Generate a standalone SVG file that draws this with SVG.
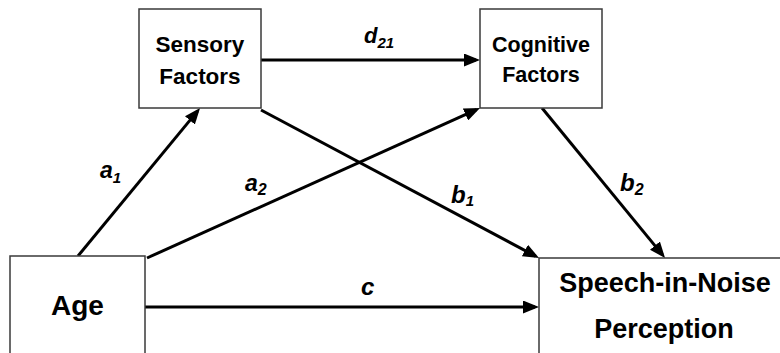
<svg xmlns="http://www.w3.org/2000/svg" width="780" height="353" viewBox="0 0 780 353">
  <style>
    .box { fill: #ffffff; stroke: #3a3a3a; stroke-width: 1.5; }
    .edge { stroke: #000000; stroke-width: 3; fill: none; marker-end: url(#arrow); }
    .name { font-family: "Liberation Sans", Arial, sans-serif; font-weight: bold; fill: #000; text-anchor: middle; }
    .coef { font-family: "Liberation Sans", Arial, sans-serif; font-weight: bold; font-style: italic; fill: #000; }
  </style>
  <defs>
    <marker id="arrow" markerUnits="userSpaceOnUse" markerWidth="16" markerHeight="13" refX="12" refY="6.5" orient="auto">
      <path d="M0,0 L16,6.5 L0,13 Z" fill="#000000"/>
    </marker>
  </defs>
  <rect width="780" height="353" fill="#ffffff"/>

  <!-- connectors -->
  <g id="connectors">
    <line class="edge" x1="261" y1="60" x2="476" y2="60"/>
    <line class="edge" x1="78" y1="256" x2="197.5" y2="111.1"/>
    <line class="edge" x1="147" y1="258" x2="476.4" y2="109.6"/>
    <line class="edge" x1="261" y1="110" x2="535.5" y2="256.1"/>
    <line class="edge" x1="542" y1="108" x2="662.5" y2="254.9"/>
    <line class="edge" x1="145" y1="307" x2="535" y2="307"/>
  </g>

  <!-- path coefficients -->
  <g id="labels">
    <text class="coef" x="364" y="43" font-size="22">d<tspan font-size="15" dy="5">21</tspan></text>
    <text class="coef" x="100" y="178" font-size="23">a<tspan font-size="15" dy="5">1</tspan></text>
    <text class="coef" x="245" y="191" font-size="23" font-style="normal">a<tspan font-size="16" dy="4">2</tspan></text>
    <text class="coef" x="451" y="203" font-size="24">b<tspan font-size="15" dy="3">1</tspan></text>
    <text class="coef" x="620" y="191" font-size="24">b<tspan font-size="16" dy="4">2</tspan></text>
    <text class="coef" x="361" y="295" font-size="24">c</text>
  </g>

  <g id="sensory">
    <rect class="box" x="139" y="9" width="122" height="99"/>
    <text class="name" x="200" y="52" font-size="22.5">Sensory</text>
    <text class="name" x="200" y="84" font-size="22.5">Factors</text>
  </g>

  <g id="cognitive">
    <rect class="box" x="480" y="9" width="122" height="99"/>
    <text class="name" x="541" y="52" font-size="21.5">Cognitive</text>
    <text class="name" x="541" y="82" font-size="21.5">Factors</text>
  </g>

  <g id="age">
    <rect class="box" x="10" y="256" width="135" height="120"/>
    <text class="name" x="77.5" y="315" font-size="28">Age</text>
  </g>

  <g id="speech">
    <rect class="box" x="539" y="258" width="260" height="120"/>
    <text class="name" x="665" y="292" font-size="27">Speech-in-Noise</text>
    <text class="name" x="664" y="338" font-size="27">Perception</text>
  </g>
</svg>
